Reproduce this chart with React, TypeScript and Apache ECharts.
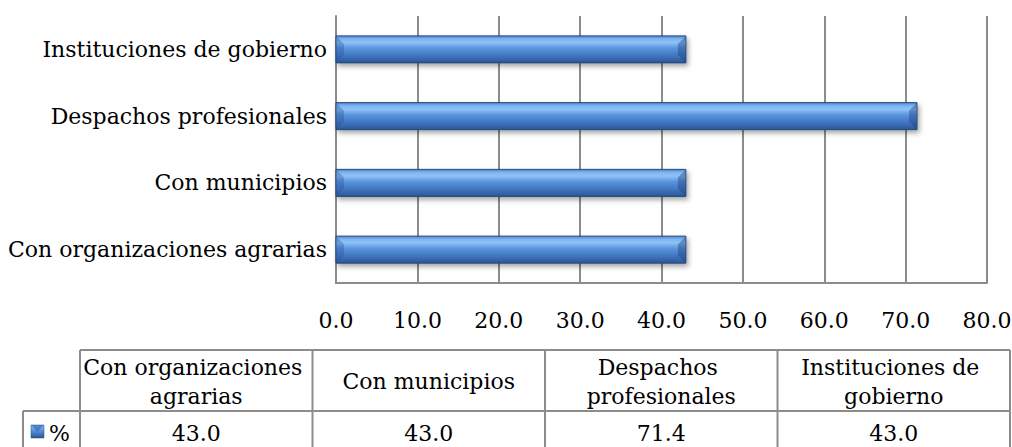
import React, { useEffect, useRef } from "react";
import * as echarts from "echarts";

const categories = [
  "Con organizaciones agrarias",
  "Con municipios",
  "Despachos profesionales",
  "Instituciones de gobierno",
];
const values = [43.0, 43.0, 71.4, 43.0];
const seriesName = "%";
const xTicks = { min: 0, max: 80, interval: 10 };

const FONT = "DejaVu Serif";
const FS = 22;
const GRID_COLOR = "#8c8c8c";

const barFill = new echarts.graphic.LinearGradient(0, 0, 0, 1, [
  { offset: 0, color: "#4f86cf" },
  { offset: 0.12, color: "#7fb6f0" },
  { offset: 0.25, color: "#8fc3f7" },
  { offset: 0.45, color: "#5a95de" },
  { offset: 0.75, color: "#3f74bf" },
  { offset: 1, color: "#2b5694" },
]);

function renderBar(params: any, api: any) {
  const v = api.value(0);
  const c = api.value(1);
  const p0 = api.coord([0, c]);
  const p1 = api.coord([v, c]);
  const h = 27;
  const x0 = p0[0];
  const x1 = p1[0];
  const y0 = p0[1] - h / 2;
  const y1 = p0[1] + h / 2;
  const b = 8;
  return {
    type: "group",
    children: [
      {
        type: "rect",
        shape: { x: x0, y: y0, width: x1 - x0, height: h },
        style: {
          fill: barFill,
          stroke: "#24497f",
          lineWidth: 1,
          shadowBlur: 5,
          shadowOffsetX: 2,
          shadowOffsetY: 3,
          shadowColor: "rgba(0,0,0,0.35)",
        },
      },
      {
        type: "polygon",
        shape: { points: [[x0 + 0.5, y0 + 0.5], [x0 + b, y0 + b], [x0 + b, y1 - b], [x0 + 0.5, y1 - 0.5]] },
        style: { fill: "rgba(40,80,150,0.35)" },
      },
      {
        type: "polygon",
        shape: { points: [[x1 - 0.5, y0 + 0.5], [x1 - b, y0 + b], [x1 - b, y1 - b], [x1 - 0.5, y1 - 0.5]] },
        style: { fill: "rgba(30,60,120,0.4)" },
      },
    ],
  };
}

function buildTable() {
  const els: any[] = [];
  const colX0 = 80;
  const colW = 232.5;
  const legX0 = 23;
  const top = 350;
  const mid = 411;
  const bot = 470;
  const line = (x1: number, y1: number, x2: number, y2: number) =>
    els.push({
      type: "line",
      shape: { x1, y1, x2, y2 },
      style: { stroke: GRID_COLOR, lineWidth: 2 },
      silent: true,
    });
  const right = colX0 + colW * categories.length;
  line(colX0, top, right, top);
  line(legX0, mid, right, mid);
  line(legX0, mid, legX0, bot);
  for (let i = 0; i <= categories.length; i++) {
    const x = colX0 + colW * i;
    line(x, top, x, bot);
  }
  categories.forEach((cat, i) => {
    const cx = colX0 + colW * i + colW / 2;
    els.push({
      type: "text",
      x: cx,
      y: (top + mid) / 2 + 1,
      style: {
        text: cat,
        width: colW - 6,
        overflow: "break",
        lineHeight: 29,
        fontFamily: FONT,
        fontSize: FS,
        fill: "#000",
        align: "center",
        verticalAlign: "middle",
      },
    });
    els.push({
      type: "text",
      x: cx,
      y: 433,
      style: {
        text: values[i].toFixed(1),
        fontFamily: FONT,
        fontSize: FS,
        fill: "#000",
        align: "center",
        verticalAlign: "middle",
      },
    });
  });
  els.push({
    type: "rect",
    shape: { x: 31, y: 425, width: 13, height: 13 },
    style: {
      fill: new echarts.graphic.LinearGradient(0, 0, 0, 1, [
        { offset: 0, color: "#8fc3f7" },
        { offset: 0.5, color: "#4f8ad6" },
        { offset: 1, color: "#2b5694" },
      ]),
      stroke: "#24497f",
      lineWidth: 0.5,
    },
  });
  els.push({
    type: "polygon",
    shape: { points: [[31, 425], [37.5, 431.5], [44, 425]] },
    style: { fill: "rgba(40,80,150,0.5)" },
  });
  els.push({
    type: "text",
    x: 49,
    y: 433,
    style: {
      text: seriesName,
      fontFamily: FONT,
      fontSize: FS,
      fill: "#000",
      align: "left",
      verticalAlign: "middle",
    },
  });
  return els;
}

export default function App() {
  const ref = useRef<HTMLDivElement>(null);
  useEffect(() => {
    if (!ref.current) return;
    const chart = echarts.init(ref.current, null, { renderer: "svg" });
    chart.setOption({
      animation: false,
      backgroundColor: "#ffffff",
      textStyle: { fontFamily: FONT },
      grid: {
        left: 336,
        right: 25,
        top: 16,
        bottom: 164,
        containLabel: false,
        outerBoundsMode: "none",
      },
      xAxis: {
        type: "value",
        min: xTicks.min,
        max: xTicks.max,
        interval: xTicks.interval,
        axisLine: { show: true, lineStyle: { color: GRID_COLOR, width: 2 } },
        axisTick: { show: false },
        splitLine: { show: true, lineStyle: { color: GRID_COLOR, width: 2 } },
        axisLabel: {
          formatter: (v: number) => v.toFixed(1),
          fontFamily: FONT,
          fontSize: FS,
          color: "#000",
          margin: 26,
        },
      },
      yAxis: {
        type: "category",
        data: categories,
        axisLine: { show: true, lineStyle: { color: GRID_COLOR, width: 2 } },
        axisTick: { show: false },
        axisLabel: {
          fontFamily: FONT,
          fontSize: FS,
          color: "#000",
          margin: 9,
        },
      },
      series: [
        {
          type: "custom",
          name: seriesName,
          renderItem: renderBar,
          encode: { x: 0, y: 1 },
          data: values.map((v, i) => [v, i]),
        },
      ],
      graphic: buildTable(),
    });
    return () => chart.dispose();
  }, []);
  return (
    <div
      ref={ref}
      style={{ position: "fixed", left: 0, top: 0, width: 1012, height: 447 }}
    />
  );
}
